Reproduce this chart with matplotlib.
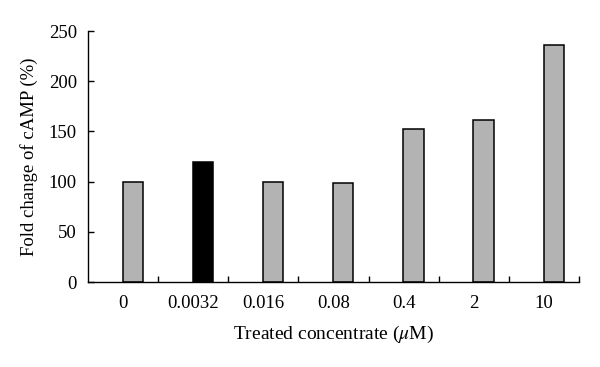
import matplotlib
matplotlib.use("Agg")
import matplotlib.pyplot as plt
import numpy as np

# data
concentrations = ["0", "0.0032", "0.016", "0.08", "0.4", "2", "10"]
fold_change = [100, 120, 100, 99, 152, 161, 236]
bar_colors = ["#b3b3b3", "#000000", "#b3b3b3", "#b3b3b3", "#b3b3b3", "#b3b3b3", "#b3b3b3"]

plt.rcParams['font.family'] = ['Liberation Serif', 'DejaVu Serif']
plt.rcParams['mathtext.fontset'] = 'stix'

fig = plt.figure(figsize=(6.0, 3.67), dpi=100)
ax = fig.add_axes([0.1467, 0.2316, 0.8183, 0.6839])

x = np.arange(len(concentrations))
ax.bar(x + 0.14, fold_change, width=0.29, color=bar_colors,
       edgecolor="black", linewidth=1.1)

ax.set_xlim(-0.5, len(concentrations) - 0.5)
ax.set_ylim(0, 250)
ax.set_yticks([0, 50, 100, 150, 200, 250])

# labels in the middle of each category, small ticks between categories
ax.set_xticks(x)
ax.set_xticklabels(concentrations)
ax.set_xticks(x + 0.5, minor=True)
ax.tick_params(axis='x', which='major', length=0, pad=9, labelsize=13.5)
ax.tick_params(axis='x', which='minor', direction='in', length=4, width=1)
ax.tick_params(axis='y', direction='in', length=4, width=1, labelsize=13.5, pad=8)

for side in ['top', 'right']:
    ax.spines[side].set_visible(False)
for side in ['left', 'bottom']:
    ax.spines[side].set_linewidth(1)

ax.set_xlabel(r'Treated concentrate ($\mu$M)', fontsize=14, labelpad=9)
ax.set_ylabel('Fold change of cAMP (%)', fontsize=13.5, labelpad=8)

plt.savefig("out.png", dpi=100)
